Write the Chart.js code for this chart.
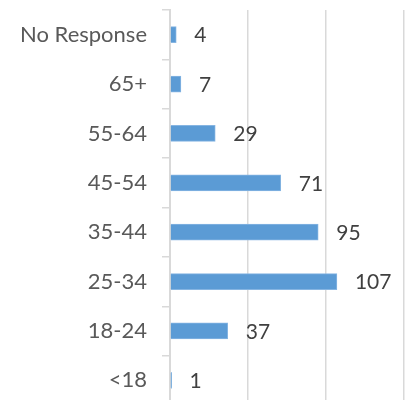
<!DOCTYPE html>
<html>
<head>
<meta charset="utf-8">
<script src="https://cdn.jsdelivr.net/npm/chart.js@4/dist/chart.umd.min.js"></script>
<style>
html,body{margin:0;padding:0;background:#fff;overflow:hidden;}
#wrap{position:relative;width:412px;height:400px;overflow:hidden;}
#c{position:absolute;left:0;top:0;}
</style>
</head>
<body>
<div id="wrap"><canvas id="c" width="412" height="410"></canvas></div>
<script>
const categories = ['No Response','65+','55-64','45-54','35-44','25-34','18-24','<18'];
const counts = [4,7,29,71,95,107,37,1];
const xTicks = [0,50,100,150];

const FONT = 'Lato, "Liberation Sans", sans-serif';
const labelPlugin = {
  id:'valueLabels',
  afterDatasetsDraw(chart){
    const ctx = chart.ctx;
    const meta = chart.getDatasetMeta(0);
    ctx.save();
    ctx.font = '21px ' + FONT;
    ctx.fillStyle = '#404040';
    ctx.textAlign = 'left';
    ctx.textBaseline = 'middle';
    meta.data.forEach((bar,i)=>{
      ctx.fillText(String(counts[i]), bar.x + 18, bar.y + 1);
    });
    ctx.restore();
  }
};

new Chart(document.getElementById('c'),{
  type:'bar',
  data:{labels:categories,datasets:[{data:counts,backgroundColor:'#5B9BD5',borderColor:'#86b5e2',borderWidth:1,barThickness:16}]},
  options:{
    indexAxis:'y',
    responsive:false,
    animation:false,
    layout:{padding:{top:10,right:8,bottom:5,left:0}},
    plugins:{legend:{display:false},tooltip:{enabled:false}},
    scales:{
      x:{
        display:true,
        min:xTicks[0],max:xTicks[xTicks.length-1],
        afterBuildTicks(s){s.ticks = xTicks.map(v=>({value:v}));},
        afterFit(s){s.height = 0;},
        ticks:{display:false},
        grid:{color:'#d9d9d9',lineWidth:1.5,drawTicks:false},
        border:{display:false}
      },
      y:{
        afterFit(s){s.width = 170; s.paddingTop = 0; s.paddingBottom = 0;},
        ticks:{font:{family:FONT,size:22},color:'#595959',padding:15},
        grid:{drawOnChartArea:false,offset:true,tickLength:8,color:'#d9d9d9',lineWidth:1.5},
        border:{color:'#d9d9d9',width:2}
      }
    }
  },
  plugins:[labelPlugin]
});
</script>
</body>
</html>
